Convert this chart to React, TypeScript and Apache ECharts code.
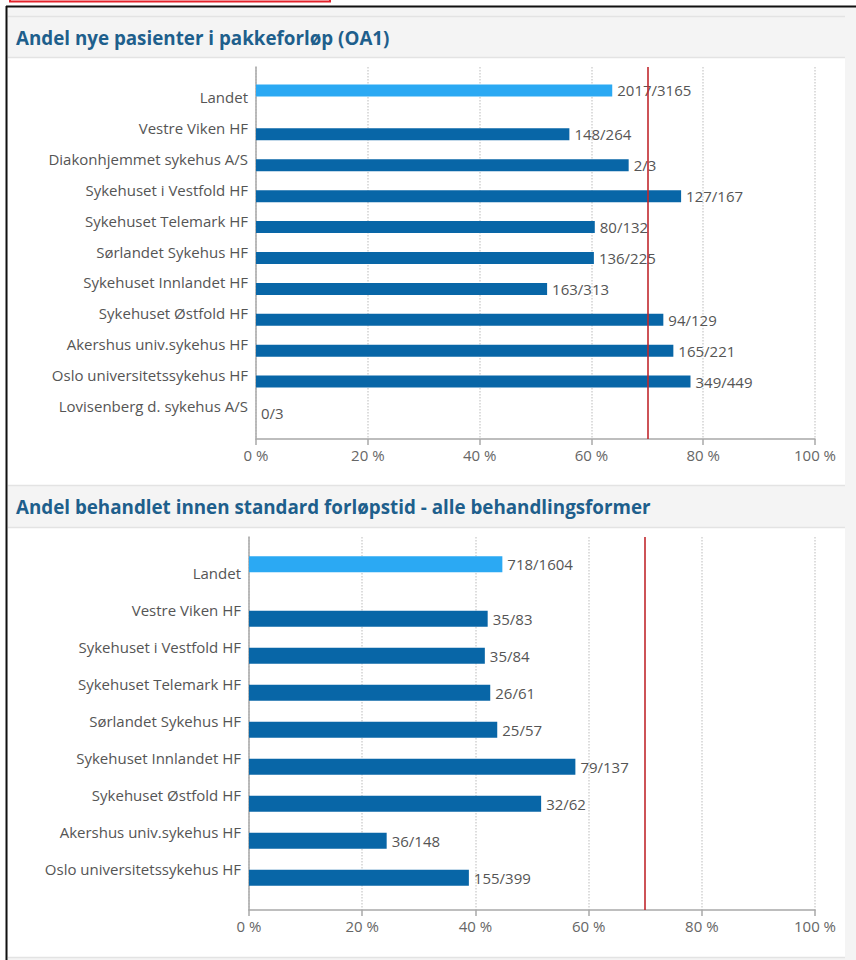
import React, { useEffect, useRef } from "react";
import * as echarts from "echarts";

const FONT = '"Open Sans", "Noto Sans", sans-serif';

const title1 = "Andel nye pasienter i pakkeforløp (OA1)";
const cats1 = [
  "Landet",
  "Vestre Viken HF",
  "Diakonhjemmet sykehus A/S",
  "Sykehuset i Vestfold HF",
  "Sykehuset Telemark HF",
  "Sørlandet Sykehus HF",
  "Sykehuset Innlandet HF",
  "Sykehuset Østfold HF",
  "Akershus univ.sykehus HF",
  "Oslo universitetssykehus HF",
  "Lovisenberg d. sykehus A/S",
];
const num1 = [2017, 148, 2, 127, 80, 136, 163, 94, 165, 349, 0];
const den1 = [3165, 264, 3, 167, 132, 225, 313, 129, 221, 449, 3];

const title2 = "Andel behandlet innen standard forløpstid - alle behandlingsformer";
const cats2 = [
  "Landet",
  "Vestre Viken HF",
  "Sykehuset i Vestfold HF",
  "Sykehuset Telemark HF",
  "Sørlandet Sykehus HF",
  "Sykehuset Innlandet HF",
  "Sykehuset Østfold HF",
  "Akershus univ.sykehus HF",
  "Oslo universitetssykehus HF",
];
const num2 = [718, 35, 35, 26, 25, 79, 32, 36, 155];
const den2 = [1604, 83, 84, 61, 57, 137, 62, 148, 399];

const TARGET = 70;
const X_MIN = 0;
const X_MAX = 100;
const X_STEP = 20;
const NATIONAL = "Landet";

const C_NATIONAL = "#2ba9f3";
const C_HOSP = "#0866a7";
const C_AXIS = "#a8a8a8";
const C_TEXT = "#555";

function panel(
  cats: string[],
  num: number[],
  den: number[],
  frame: { left: number; top: number; width: number; height: number },
  bars: { top: number; height: number },
  barWidth: number,
  gi: number
) {
  const pct = num.map((n, i) => (n / den[i]) * 100);
  const grids = [
    { left: frame.left, top: frame.top, width: frame.width, height: frame.height, outerBoundsMode: "none" },
    { left: frame.left, top: bars.top, width: frame.width, height: bars.height, outerBoundsMode: "none" },
  ];
  const xAxes = [
    {
      gridIndex: gi,
      type: "value",
      min: X_MIN,
      max: X_MAX,
      interval: X_STEP,
      axisLine: { show: true, onZero: false, lineStyle: { color: C_AXIS, width: 1.5 } },
      axisTick: { show: true, length: 6, lineStyle: { color: C_AXIS, width: 1.5 } },
      splitLine: { show: true, lineStyle: { color: "#d2d2d2", type: "dotted", width: 1.5 } },
      axisLabel: { formatter: "{value} %", color: "#666", fontSize: 15, fontFamily: FONT, margin: 8 },
    },
    { gridIndex: gi + 1, type: "value", min: X_MIN, max: X_MAX, show: false },
  ];
  const yAxes = [
    {
      gridIndex: gi,
      type: "value",
      axisLine: { show: true, onZero: false, lineStyle: { color: C_AXIS, width: 1.5 } },
      axisTick: { show: false },
      axisLabel: { show: false },
      splitLine: { show: false },
    },
    {
      gridIndex: gi + 1,
      type: "category",
      data: cats,
      inverse: true,
      axisLine: { show: false },
      axisTick: { show: false },
      axisLabel: { color: C_TEXT, fontSize: 15, fontFamily: FONT, margin: 8 },
    },
  ];
  const label = {
    show: true,
    position: "right",
    distance: 5,
    color: C_TEXT,
    fontSize: 15,
    fontFamily: FONT,
    formatter: (p: any) => `${num[p.dataIndex]}/${den[p.dataIndex]}`,
  };
  const series = [
    {
      type: "line",
      xAxisIndex: gi,
      yAxisIndex: gi,
      data: [],
      silent: true,
      markLine: {
        silent: true,
        symbol: "none",
        label: { show: false },
        lineStyle: { color: "#c1272d", width: 1.6, type: "solid" },
        data: [{ xAxis: TARGET }],
      },
    },
    {
      type: "bar",
      xAxisIndex: gi + 1,
      yAxisIndex: gi + 1,
      barWidth,
      barGap: "8%",
      itemStyle: { color: C_NATIONAL },
      label,
      data: pct.map((v, i) => (cats[i] === NATIONAL ? v : null)),
    },
    {
      type: "bar",
      xAxisIndex: gi + 1,
      yAxisIndex: gi + 1,
      barWidth,
      barGap: "8%",
      itemStyle: { color: C_HOSP },
      label,
      data: pct.map((v, i) => (cats[i] === NATIONAL ? null : v)),
    },
  ];
  return { grids, xAxes, yAxes, series };
}

export default function App() {
  const ref = useRef<HTMLDivElement>(null);
  useEffect(() => {
    if (!ref.current) return;
    const chart = echarts.init(ref.current, null, { renderer: "svg" });
    const p1 = panel(cats1, num1, den1, { left: 256, top: 67, width: 559, height: 372 }, { top: 81.5, height: 340 }, 12, 0);
    const p2 = panel(cats2, num2, den2, { left: 249, top: 537, width: 566, height: 373 }, { top: 554.5, height: 333 }, 16, 2);
    const sep = (y: number) => ({
      type: "line",
      z: -8,
      shape: { x1: 8, y1: y, x2: 845, y2: y },
      style: { stroke: "#e3e3e3", lineWidth: 1.5 },
    });
    const option: any = {
      animation: false,
      textStyle: { fontFamily: FONT },
      grid: [...p1.grids, ...p2.grids],
      xAxis: [...p1.xAxes, ...p2.xAxes],
      yAxis: [...p1.yAxes, ...p2.yAxes],
      series: [...p1.series, ...p2.series],
      graphic: [
        { type: "rect", z: -10, shape: { x: 7, y: 7, width: 849, height: 953 }, style: { fill: "#f4f4f4" } },
        { type: "rect", z: -9, shape: { x: 8, y: 58, width: 837, height: 427 }, style: { fill: "#ffffff" } },
        { type: "rect", z: -9, shape: { x: 8, y: 528, width: 837, height: 429 }, style: { fill: "#ffffff" } },
        sep(16.5),
        sep(57.5),
        sep(485.5),
        sep(527.5),
        sep(957.5),
        { type: "line", z: 5, shape: { x1: 6.5, y1: 6, x2: 6.5, y2: 960 }, style: { stroke: "#111", lineWidth: 2 } },
        { type: "line", z: 5, shape: { x1: 6, y1: 6.5, x2: 856, y2: 6.5 }, style: { stroke: "#111", lineWidth: 2 } },
        { type: "rect", z: 5, shape: { x: 10, y: -10, width: 320, height: 11.5 }, style: { fill: "none", stroke: "#e3222b", lineWidth: 2 } },
        {
          type: "text",
          z: 5,
          x: 16,
          y: 38,
          style: {
            text: title1,
            fill: "#1e5f8c",
            font: `bold 18.8px ${FONT}`,
            align: "left",
            verticalAlign: "middle",
            textAlign: "left",
            textVerticalAlign: "middle",
          },
        },
        {
          type: "text",
          z: 5,
          x: 16,
          y: 507,
          style: {
            text: title2,
            fill: "#1e5f8c",
            font: `bold 18.8px ${FONT}`,
            align: "left",
            verticalAlign: "middle",
            textAlign: "left",
            textVerticalAlign: "middle",
          },
        },
      ],
    };
    chart.setOption(option);
    return () => chart.dispose();
  }, []);
  return <div ref={ref} style={{ position: "absolute", left: 0, top: 0, width: 856, height: 960 }} />;
}
